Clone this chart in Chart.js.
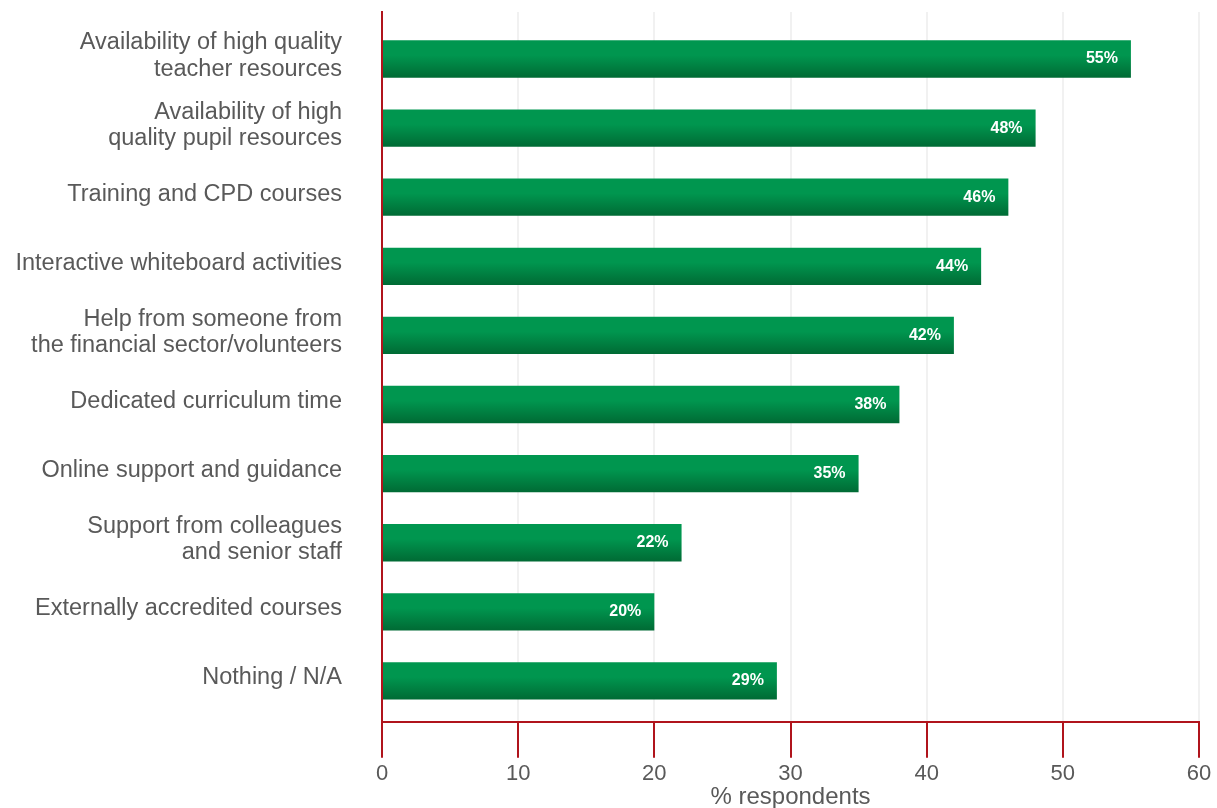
<!DOCTYPE html>
<html>
<head>
<meta charset="utf-8">
<script src="https://cdn.jsdelivr.net/npm/chart.js@4/dist/chart.umd.min.js"></script>
<style>
  html, body { margin: 0; padding: 0; background: #fff; }
  #wrap { width: 1217px; height: 808px; }
</style>
</head>
<body>
<div id="wrap"><canvas id="myBarChart"></canvas></div>
<script>
// categories top to bottom, each line of a label is an entry
const categories = [
  ['Availability of high quality', 'teacher resources'],
  ['Availability of high', 'quality pupil resources'],
  'Training and CPD courses',
  'Interactive whiteboard activities',
  ['Help from someone from', 'the financial sector/volunteers'],
  'Dedicated curriculum time',
  'Online support and guidance',
  ['Support from colleagues', 'and senior staff'],
  'Externally accredited courses',
  'Nothing / N/A'
];
const values = [55, 48, 46, 44, 42, 38, 35, 22, 20, 29];
const valueLabels = ['55%', '48%', '46%', '44%', '42%', '38%', '35%', '22%', '20%', '29%'];
const xTicks = [0, 10, 20, 30, 40, 50, 60];
const xTitle = '% respondents';

const red = '#b0141c';
const grey = '#595959';
const fontFamily = "'Liberation Sans', Arial, Helvetica, sans-serif";
const barPct = 0.54;

// white value text at the end of each bar
const barLabels = {
  id: 'barLabels',
  afterDatasetsDraw(chart) {
    const ctx = chart.ctx;
    const meta = chart.getDatasetMeta(0);
    ctx.save();
    ctx.font = 'bold 16px ' + fontFamily;
    ctx.fillStyle = '#ffffff';
    ctx.textAlign = 'right';
    ctx.textBaseline = 'middle';
    meta.data.forEach(function (bar, i) {
      ctx.fillText(valueLabels[i], bar.x - 13, bar.y);
    });
    ctx.restore();
  }
};

function barFill(c) {
  const chart = c.chart;
  const y = chart.scales.y;
  if (!y || c.dataIndex === undefined) return '#00964f';
  const yc = y.getPixelForValue(c.dataIndex);
  const h = Math.abs(y.getPixelForValue(1) - y.getPixelForValue(0)) * barPct;
  if (!isFinite(yc) || !isFinite(h) || h === 0) return '#00964f';
  const g = chart.ctx.createLinearGradient(0, yc - h / 2, 0, yc + h / 2);
  g.addColorStop(0, '#00964f');
  g.addColorStop(0.4, '#00964f');
  g.addColorStop(1, '#006a34');
  return g;
}

document.addEventListener("DOMContentLoaded", function () {
  var ctx = document.getElementById("myBarChart").getContext("2d");
  new Chart(ctx, {
    type: "bar",
    data: {
      datasets: [{
        data: values.map(function (v, i) { return { x: v, y: i }; }),
        backgroundColor: barFill,
        borderWidth: 0,
        categoryPercentage: 1,
        barPercentage: barPct
      }]
    },
    options: {
      indexAxis: 'y',
      responsive: true,
      maintainAspectRatio: false,
      animation: false,
      layout: { padding: { top: 12, right: 18, bottom: 0, left: 0 } },
      plugins: {
        legend: { display: false },
        tooltip: { enabled: false }
      },
      scales: {
        x: {
          type: 'linear',
          position: 'bottom',
          min: 0,
          max: 60,
          afterBuildTicks: function (scale) {
            scale.ticks = xTicks.map(function (v) { return { value: v }; });
          },
          afterFit: function (scale) { scale.height = 86.3; },
          grid: {
            color: '#f1f1f1',
            lineWidth: 2,
            tickColor: red,
            tickWidth: 2,
            tickLength: 36
          },
          border: { color: red, width: 2 },
          ticks: {
            font: { family: fontFamily, size: 22 },
            color: grey,
            padding: 3
          },
          title: {
            display: true,
            text: xTitle,
            font: { family: fontFamily, size: 24, lineHeight: 1.2 },
            color: grey,
            padding: { top: 0, bottom: -4 }
          }
        },
        y: {
          type: 'linear',
          reverse: true,
          offset: false,
          min: -0.68,
          max: 9.59,
          afterBuildTicks: function (scale) {
            scale.ticks = categories.map(function (c, i) { return { value: i }; });
          },
          afterFit: function (scale) {
            scale.width = 382;
            scale.paddingTop = 0;
            scale.paddingBottom = 0;
          },
          grid: { display: false, drawTicks: false, offset: false },
          border: { color: red, width: 2 },
          ticks: {
            autoSkip: false,
            padding: 40,
            labelOffset: -3,
            font: { family: fontFamily, size: 23.5, lineHeight: 1.11 },
            color: grey,
            callback: function (v) { return categories[v]; }
          }
        }
      }
    },
    plugins: [barLabels]
  });
});
</script>
</body>
</html>
